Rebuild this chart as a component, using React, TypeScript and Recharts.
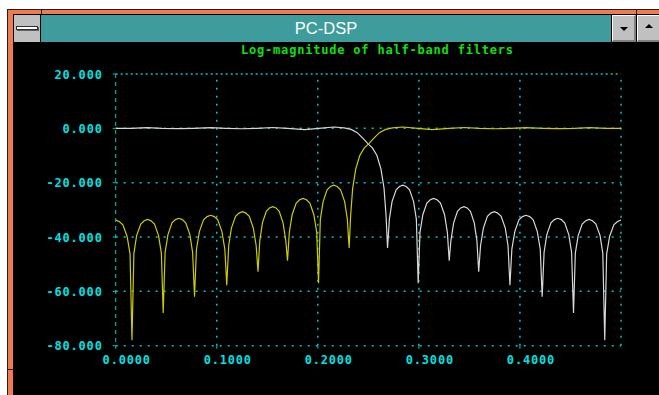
import React from 'react';
import { LineChart, Line, XAxis, YAxis, ReferenceLine } from 'recharts';

const WINDOW_TITLE = 'PC-DSP';
const CHART_TITLE = 'Log-magnitude of half-band filters';

const yTicks = [20, 0, -20, -40, -60, -80];
const xTicks = [0, 0.1, 0.2, 0.3, 0.4];
const xGrid = [0.1, 0.2, 0.3, 0.4, 0.5];

// [normalised frequency, magnitude in dB]
const lowpass: [number, number][] = [
  [0.0, 0.0], [0.015, 0.0], [0.031, 0.25], [0.046, 0.0], [0.062, -0.1], [0.077, 0.0],
  [0.094, 0.25], [0.109, 0.0], [0.125, -0.15], [0.14, 0.0], [0.155, 0.3], [0.17, 0.0],
  [0.187, -0.5], [0.201, 0.0], [0.216, 0.5], [0.226, 0.2], [0.233, -0.4], [0.239, -1.6],
  [0.245, -3.8], [0.2497, -5.7], [0.254, -7.2], [0.2585, -10], [0.2625, -15], [0.2655, -22],
  [0.2675, -32], [0.269, -44],
  [0.2708, -33.4], [0.2735, -26.9], [0.2775, -22.6], [0.2808, -21.4], [0.2841, -20.9],
  [0.2875, -21.4], [0.2908, -22.6], [0.2947, -26.9], [0.2975, -33.4], [0.2993, -57],
  [0.3011, -38.3], [0.3039, -31.8], [0.3079, -27.5], [0.3113, -26.3], [0.3146, -25.8],
  [0.318, -26.3], [0.3214, -27.5], [0.3254, -31.8], [0.3282, -38.3], [0.33, -48.7],
  [0.3317, -41.3], [0.3344, -34.8], [0.3382, -30.5], [0.3414, -29.3], [0.3446, -28.8],
  [0.3478, -29.3], [0.351, -30.5], [0.3548, -34.8], [0.3574, -41.3], [0.3592, -52.8],
  [0.361, -43.2], [0.3638, -36.7], [0.3678, -32.4], [0.3712, -31.2], [0.3746, -30.7],
  [0.378, -31.2], [0.3814, -32.4], [0.3855, -36.7], [0.3882, -43.2], [0.3901, -57.7],
  [0.392, -44.5], [0.3949, -38.0], [0.399, -33.7], [0.4025, -32.5], [0.406, -32.0],
  [0.4096, -32.5], [0.4131, -33.7], [0.4172, -38.0], [0.4201, -44.5], [0.422, -62],
  [0.4239, -45.6], [0.4266, -39.1], [0.4307, -34.8], [0.4341, -33.6], [0.4375, -33.1],
  [0.4409, -33.6], [0.4443, -34.8], [0.4483, -39.1], [0.4511, -45.6], [0.453, -68],
  [0.4548, -46], [0.4576, -39.5], [0.4616, -35.2], [0.4651, -34], [0.4684, -33.5],
  [0.4718, -34], [0.4752, -35.2], [0.4793, -39.5], [0.482, -46], [0.4839, -78],
  [0.4858, -46.3], [0.4887, -39.8], [0.4929, -35.5], [0.4965, -34.3], [0.5, -33.8],
];

const highpass: [number, number][] = [
  [0.0, -33.8], [0.0035, -34.3], [0.0071, -35.5], [0.0113, -39.8], [0.0142, -46.3], [0.0161, -78],
  [0.018, -46], [0.0207, -39.5], [0.0248, -35.2], [0.0282, -34], [0.0316, -33.5],
  [0.0349, -34], [0.0384, -35.2], [0.0424, -39.5], [0.0452, -46], [0.047, -68],
  [0.0489, -45.6], [0.0517, -39.1], [0.0557, -34.8], [0.0591, -33.6], [0.0625, -33.1],
  [0.0659, -33.6], [0.0693, -34.8], [0.0734, -39.1], [0.0761, -45.6], [0.078, -62],
  [0.0799, -44.5], [0.0828, -38], [0.0869, -33.7], [0.0904, -32.5], [0.094, -32],
  [0.0975, -32.5], [0.101, -33.7], [0.1051, -38], [0.108, -44.5], [0.1099, -57.7],
  [0.1118, -43.2], [0.1145, -36.7], [0.1186, -32.4], [0.122, -31.2], [0.1254, -30.7],
  [0.1288, -31.2], [0.1322, -32.4], [0.1362, -36.7], [0.139, -43.2], [0.1408, -52.8],
  [0.1426, -41.3], [0.1452, -34.8], [0.149, -30.5], [0.1522, -29.3], [0.1554, -28.8],
  [0.1586, -29.3], [0.1618, -30.5], [0.1656, -34.8], [0.1683, -41.3], [0.17, -48.7],
  [0.1718, -38.3], [0.1746, -31.8], [0.1786, -27.5], [0.182, -26.3], [0.1854, -25.8],
  [0.1887, -26.3], [0.1921, -27.5], [0.1961, -31.8], [0.1989, -38.3], [0.2007, -57],
  [0.2025, -33.4], [0.2053, -26.9], [0.2092, -22.6], [0.2125, -21.4], [0.2159, -20.9],
  [0.2192, -21.4], [0.2225, -22.6], [0.2265, -26.9], [0.2292, -33.4], [0.231, -44],
  [0.2325, -32], [0.2345, -22], [0.2375, -15], [0.2415, -10], [0.246, -7.2], [0.2503, -5.7],
  [0.255, -3.8], [0.261, -1.6], [0.267, -0.4], [0.274, 0.2], [0.284, 0.5], [0.299, 0.0],
  [0.313, -0.5], [0.33, 0.0], [0.345, 0.3], [0.36, 0.0], [0.375, -0.15], [0.391, 0.0],
  [0.406, 0.25], [0.423, 0.0], [0.438, -0.1], [0.454, 0.0], [0.469, 0.25], [0.485, 0.0],
  [0.5, 0.0],
];

const CYAN = '#00e0e0';
const GRID = '#00c4c4';
const ORANGE = '#f07a52';
const TEAL = '#3e9c9c';
const BTN = '#c0c0c0';
const MONO = '"DejaVu Sans Mono", "Liberation Mono", monospace';

const lowData = lowpass.map(([f, db]) => ({ f, db }));
const highData = highpass.map(([f, db]) => ({ f, db }));

const YTick = ({ x, y, payload }: any) => (
  <text
    x={x}
    y={y + 4.5}
    textAnchor="end"
    fill={CYAN}
    fontFamily={MONO}
    fontSize={12}
    fontWeight="bold"
    letterSpacing={0.8}
  >
    {Number(payload.value).toFixed(3)}
  </text>
);

const XTick = ({ x, y, payload }: any) => (
  <text
    x={x + 11}
    y={y + 15.6}
    textAnchor="middle"
    fill={CYAN}
    fontFamily={MONO}
    fontSize={12}
    fontWeight="bold"
    letterSpacing={0.8}
  >
    {Number(payload.value).toFixed(4)}
  </text>
);

const abs = (s: React.CSSProperties): React.CSSProperties => ({ position: 'absolute', ...s });

function Button({ left, up }: { left: number; up: boolean }) {
  return (
    <div
      style={abs({
        left,
        top: 15,
        width: 24,
        height: 27,
        background: BTN,
        boxSizing: 'border-box',
        borderTop: '1px solid #fff',
        borderLeft: '1px solid #fff',
        borderRight: '2px solid #808080',
        borderBottom: '2px solid #808080',
      })}
    >
      <div
        style={abs({
          left: 7,
          top: up ? 8 : 11,
          width: 0,
          height: 0,
          borderLeft: '4px solid transparent',
          borderRight: '4px solid transparent',
          ...(up ? { borderBottom: '4px solid #000' } : { borderTop: '4px solid #000' }),
        })}
      />
    </div>
  );
}

export default function App() {
  return (
    <div style={{ position: 'relative', width: 659, height: 395, background: '#fff', overflow: 'hidden' }}>
      <style>{'body{margin:0}'}</style>

      {/* window frame */}
      <div style={abs({ left: 7, top: 9, width: 700, height: 400, background: '#202020' })} />
      <div style={abs({ left: 8, top: 10, width: 700, height: 400, background: ORANGE })} />
      <div style={abs({ left: 41, top: 10, width: 1, height: 4, background: '#202020' })} />
      <div style={abs({ left: 636, top: 10, width: 1, height: 4, background: '#202020' })} />
      <div style={abs({ left: 8, top: 369, width: 5, height: 1, background: '#202020' })} />
      <div style={abs({ left: 13, top: 14, width: 700, height: 400, background: '#000' })} />

      {/* title bar */}
      <div style={abs({ left: 14, top: 15, width: 26, height: 27, background: BTN })} />
      <div
        style={abs({
          left: 16,
          top: 26,
          width: 22,
          height: 4,
          background: '#fff',
          border: '1px solid #303030',
          boxSizing: 'border-box',
          boxShadow: '1px 1px 0 #606060',
        })}
      />
      <div
        style={abs({
          left: 41,
          top: 15,
          width: 570,
          height: 27,
          background: TEAL,
          color: '#fff',
          fontFamily: '"Liberation Sans", Arial, sans-serif',
          fontSize: 16.5,
          lineHeight: '27px',
          textAlign: 'center',
        })}
      >
        {WINDOW_TITLE}
      </div>
      <Button left={612} up={false} />
      <Button left={637} up={true} />

      {/* chart title */}
      <div
        style={abs({
          left: 241,
          top: 43,
          color: '#10e010',
          fontFamily: MONO,
          fontSize: 12,
          fontWeight: 'bold',
          letterSpacing: 0.8,
          lineHeight: '14px',
          whiteSpace: 'nowrap',
        })}
      >
        {CHART_TITLE}
      </div>

      <div style={abs({ left: 0, top: 0 })}>
        <LineChart width={659} height={395} margin={{ top: 74, right: 38, bottom: 19.3, left: 16 }}>
          <XAxis
            dataKey="f"
            type="number"
            domain={[0, 0.5]}
            ticks={xTicks}
            allowDataOverflow
            axisLine={false}
            tickLine={{ stroke: GRID }}
            tickSize={3}
            tickMargin={0}
            height={30}
            tick={<XTick />}
            interval={0}
          />
          <YAxis
            dataKey="db"
            type="number"
            domain={[-80, 20]}
            ticks={yTicks}
            allowDataOverflow
            width={99.7}
            axisLine={{ stroke: GRID, strokeDasharray: '4 4' }}
            tickLine={{ stroke: GRID }}
            tickSize={3}
            tickMargin={10}
            tick={<YTick />}
            interval={0}
          />
          {yTicks.map((v) => (
            <ReferenceLine
              key={'y' + v}
              y={v}
              stroke={GRID}
              strokeWidth={1.5}
              strokeDasharray={v === 20 ? '2 3' : '2 6'}
            />
          ))}
          {xGrid.map((v) => (
            <ReferenceLine key={'x' + v} x={v} stroke={GRID} strokeWidth={1.5} strokeDasharray="2 6" />
          ))}
          <Line
            data={lowData}
            dataKey="db"
            type="linear"
            stroke="#d8d8d8"
            strokeWidth={1.2}
            dot={false}
            isAnimationActive={false}
          />
          <Line
            data={highData}
            dataKey="db"
            type="linear"
            stroke="#cccc00"
            strokeWidth={1.2}
            dot={false}
            isAnimationActive={false}
          />
        </LineChart>
      </div>
    </div>
  );
}
